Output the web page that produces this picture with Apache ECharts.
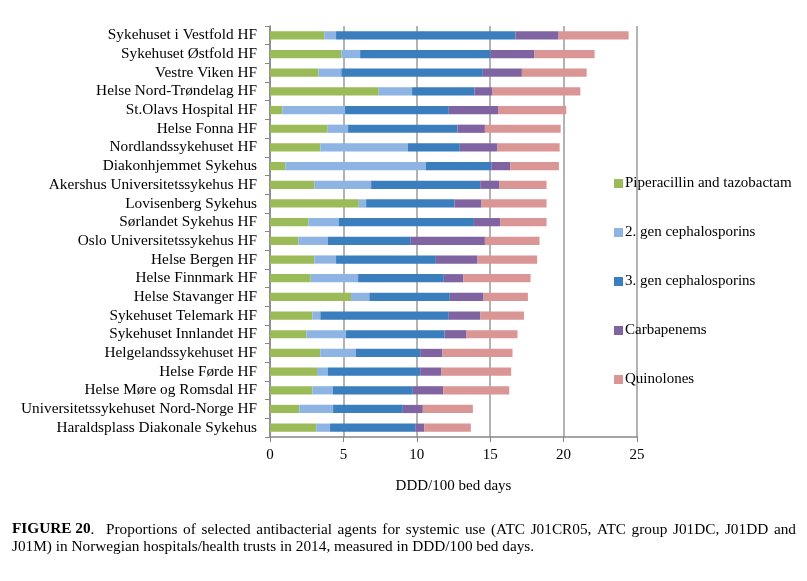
<!DOCTYPE html>
<html><head><meta charset="utf-8">
<script src="https://cdn.jsdelivr.net/npm/echarts@6/dist/echarts.min.js"></script>
<style>html,body{margin:0;padding:0;background:#fff}#c{width:807px;height:581px}</style>
</head><body><div id="c"></div>
<script>
const categories = ["Sykehuset i Vestfold HF","Sykehuset Østfold HF","Vestre Viken HF","Helse Nord-Trøndelag HF","St.Olavs Hospital HF","Helse Fonna HF","Nordlandssykehuset HF","Diakonhjemmet Sykehus","Akershus Universitetssykehus HF","Lovisenberg Sykehus","Sørlandet Sykehus HF","Oslo Universitetssykehus HF","Helse Bergen HF","Helse Finnmark HF","Helse Stavanger HF","Sykehuset Telemark HF","Sykehuset Innlandet HF","Helgelandssykehuset HF","Helse Førde HF","Helse Møre og Romsdal HF","Universitetssykehuset Nord-Norge HF","Haraldsplass Diakonale Sykehus"];
const piperacillin = [3.70,4.86,3.30,7.41,0.84,3.93,3.43,1.05,3.02,6.05,2.61,1.93,3.02,2.77,5.52,2.89,2.48,3.43,3.20,2.89,2.00,3.16];
const cephalo2 = [0.80,1.28,1.56,2.27,4.27,1.39,5.96,9.56,3.87,0.50,2.09,2.02,1.48,3.23,1.25,0.54,2.70,2.41,0.75,1.38,2.30,0.93];
const cephalo3 = [12.23,8.86,9.64,4.25,7.07,7.45,3.54,4.46,7.43,6.02,9.19,5.64,6.80,5.84,5.48,8.75,6.71,4.39,6.28,5.46,4.75,5.80];
const carbapenems = [2.93,3.02,2.66,1.23,3.39,1.87,2.57,1.29,1.32,1.84,1.81,5.05,2.84,1.34,2.30,2.16,1.50,1.52,1.45,2.07,1.36,0.63];
const quinolones = [4.77,4.09,4.41,5.98,4.61,5.16,4.23,3.32,3.20,4.43,3.14,3.72,4.06,4.57,3.02,2.96,3.47,4.77,4.75,4.50,3.41,3.16];
const seriesNames = ["Piperacillin and tazobactam","2. gen cephalosporins","3. gen cephalosporins","Carbapenems","Quinolones"];
const xTicks = [0,5,10,15,20,25];
const captionBold = "FIGURE 20";
const captionLine1 = "Proportions of selected antibacterial agents for systemic use (ATC J01CR05, ATC group J01DC, J01DD and";
const captionLine2 = "J01M) in Norwegian hospitals/health trusts in 2014, measured in DDD/100 bed days.";

const colors = ["#9BBB59","#8DB4E2","#3A7EBD","#8064A2","#DA9694"];
const font = "'Liberation Serif','Times New Roman',serif";
const dataSets = [piperacillin,cephalo2,cephalo3,carbapenems,quinolones];

// justified caption line 1
const capSize = 15.3;
const capFont = capSize + "px 'Liberation Serif'";
const cv = document.createElement('canvas').getContext('2d');
cv.font = "bold " + capFont;
const boldW = cv.measureText(captionBold).width;
cv.font = capFont;
const words = captionLine1.split(' ');
const startX = 106, endX = 796;
const widths = words.map(w => cv.measureText(w).width);
const total = widths.reduce((a,b)=>a+b,0);
const gap = (endX - startX - total) / (words.length - 1);
const y1 = 522, y2 = 539;
const graphics = [
  {type:'text', x:12, y:y1, style:{text:captionBold, font:"bold "+capFont, fill:'#000', textVerticalAlign:'top'}},
  {type:'text', x:12+boldW, y:y1, style:{text:'.', font:capFont, fill:'#000', textVerticalAlign:'top'}},
  {type:'text', x:12, y:y2, style:{text:captionLine2, font:capFont, fill:'#000', textVerticalAlign:'top'}}
];
let cx = startX;
words.forEach((w,i)=>{
  graphics.push({type:'text', x:cx, y:y1, style:{text:w, font:capFont, fill:'#000', textVerticalAlign:'top'}});
  cx += widths[i] + gap;
});

const chart = echarts.init(document.getElementById('c'), null, {renderer:'canvas'});
chart.setOption({
  animation:false,
  textStyle:{fontFamily:font, color:'#000'},
  grid:{left:270, right:170, top:26, bottom:144, containLabel:false},
  legend:{
    orient:'vertical', left:609, top:171, itemGap:34, itemWidth:9, itemHeight:9,
    icon:'rect', textStyle:{fontFamily:font, fontSize:15, color:'#000', padding:[0,0,0,-3]},
    data:seriesNames
  },
  xAxis:{
    type:'value', min:xTicks[0], max:xTicks[xTicks.length-1], interval:5,
    name:'DDD/100 bed days', nameLocation:'middle', nameGap:42,
    nameTextStyle:{fontFamily:font, fontSize:15, color:'#000'},
    axisLine:{show:true, lineStyle:{color:'#868686', width:1.5}},
    axisTick:{show:true, length:5, lineStyle:{color:'#868686'}},
    axisLabel:{fontFamily:font, fontSize:15, color:'#000', margin:11},
    splitLine:{show:true, lineStyle:{color:'#9a9a9a', width:1.5}}
  },
  yAxis:{
    type:'category', data:categories, inverse:true,
    axisLine:{show:true, lineStyle:{color:'#868686', width:1.5}},
    axisTick:{show:true, length:5, lineStyle:{color:'#868686'}},
    axisLabel:{fontFamily:font, fontSize:15.3, color:'#000', margin:13, interval:0},
    splitLine:{show:false}
  },
  series: seriesNames.map((n,i)=>({
    name:n, type:'bar', stack:'total', data:dataSets[i], barWidth:'44%',
    itemStyle:{color:colors[i]}
  })),
  graphic: graphics
});
</script></body></html>
